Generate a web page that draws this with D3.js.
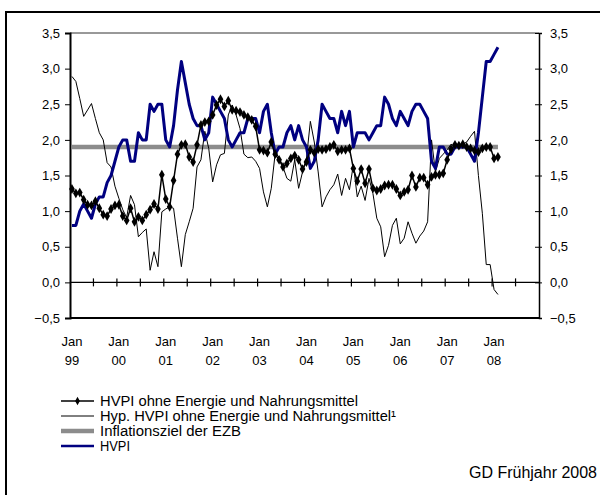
<!DOCTYPE html>
<html>
<head>
<meta charset="utf-8">
<script src="https://cdn.jsdelivr.net/npm/d3@7"></script>
<style>
  body { margin: 0; background: #fff; }
  text { font-family: "Liberation Sans", Arial, sans-serif; fill: #000; }
</style>
</head>
<body>
<div id="chart"></div>
<script>
// monthly values Jan 1999 .. Feb 2008
const hvpi = [
  0.8,0.8,1.0,1.1,1.0,0.9,1.1,1.2,1.2,1.4,1.5,1.7,
  1.9,2.0,2.0,1.7,1.7,2.1,2.0,2.0,2.5,2.4,2.5,2.5,
  2.0,1.9,2.2,2.7,3.1,2.8,2.5,2.3,2.2,2.2,2.0,2.1,
  2.6,2.5,2.4,2.3,2.0,1.9,2.0,2.1,2.1,2.3,2.3,2.3,
  2.1,2.4,2.5,2.1,1.8,1.9,1.9,2.1,2.2,2.0,2.2,2.0,
  1.9,1.6,1.7,2.0,2.5,2.4,2.3,2.3,2.1,2.4,2.2,2.4,
  1.9,2.1,2.1,2.1,2.0,2.1,2.2,2.2,2.6,2.5,2.3,2.2,
  2.4,2.3,2.2,2.4,2.5,2.5,2.4,2.3,1.7,1.6,1.9,1.9,
  1.8,1.8,1.9,1.9,1.9,1.9,1.8,1.7,2.1,2.6,3.1,3.1,
  3.2,3.3
];
const hvpiKern = [
  1.31,1.25,1.26,1.16,1.09,1.08,1.14,1.04,0.95,0.93,1.03,1.08,
  1.09,0.93,0.87,1.04,0.85,0.92,0.87,0.95,1.02,1.10,1.03,1.51,
  1.17,1.06,1.43,1.80,1.93,1.94,1.76,1.69,1.93,2.21,2.25,2.26,
  2.35,2.49,2.57,2.47,2.55,2.42,2.41,2.39,2.35,2.32,2.28,2.19,
  1.86,1.85,1.82,1.97,1.80,1.72,1.62,1.67,1.74,1.78,1.72,1.59,
  1.69,1.86,1.82,1.87,1.86,1.87,1.90,1.93,1.84,1.86,1.86,1.88,
  1.60,1.42,1.59,1.39,1.59,1.32,1.29,1.31,1.36,1.37,1.37,1.31,
  1.22,1.27,1.30,1.50,1.34,1.47,1.47,1.37,1.48,1.51,1.51,1.53,
  1.72,1.87,1.93,1.92,1.94,1.90,1.88,1.85,1.83,1.88,1.90,1.90,
  1.74,1.76
];
const hypKern = [
  2.89,2.82,2.58,2.33,2.42,2.51,2.30,2.10,2.00,1.68,1.62,1.35,
  1.18,1.02,0.91,1.22,1.09,0.64,0.70,0.75,0.17,0.43,0.22,0.99,
  1.03,1.06,1.04,0.62,0.22,0.67,0.85,1.04,1.62,1.72,2.12,1.88,
  1.41,1.65,1.79,1.81,2.35,2.49,2.35,2.16,1.80,1.75,1.76,1.70,
  1.60,1.27,1.06,1.32,1.81,1.76,1.62,1.46,1.42,1.72,1.32,1.55,
  1.74,2.26,1.97,1.55,1.06,1.20,1.30,1.37,1.52,1.22,1.46,1.30,
  1.65,1.20,1.35,1.15,1.46,1.25,0.90,0.78,0.36,0.52,0.80,0.90,
  0.54,0.62,0.85,0.69,0.55,0.65,0.72,0.85,2.00,1.55,1.74,1.80,
  1.86,1.94,1.90,1.92,1.94,1.97,2.05,2.12,1.50,0.97,0.25,0.25,
  -0.10,-0.17
];
const inflationsziel = 1.9;
const years = ["99","00","01","02","03","04","05","06","07","08"];
const yTicks = [-0.5, 0, 0.5, 1, 1.5, 2, 2.5, 3, 3.5];
const legendLabels = [
  "HVPI ohne Energie und Nahrungsmittel",
  "Hyp. HVPI ohne Energie und Nahrungsmittel\u00b9",
  "Inflationsziel der EZB",
  "HVPI"
];
const quelle = "GD Frühjahr 2008";

const width = 600, height = 495;
const navy = "#000080", grey = "#8c8c8c";

const svg = d3.select("#chart").append("svg")
  .attr("width", width)
  .attr("height", height);

// outer frame (runs off the picture to the right and bottom)
svg.append("rect")
  .attr("x", 6).attr("y", 12)
  .attr("width", 700).attr("height", 600)
  .attr("fill", "none")
  .attr("stroke", "#000")
  .attr("stroke-width", 2);

// one band per month, Jan 99 .. Dec 08
const x = d3.scaleBand()
  .domain(d3.range(years.length * 12))
  .range([70, 539])
  .padding(0);
const cx = i => x(i) + x.bandwidth() / 2;

const y = d3.scaleLinear().domain([-0.5, 3.5]).range([318, 33]);
const fmt = v => d3.format(".1f")(v).replace(".", ",");

// plot area frame
svg.append("line").attr("x1", 70).attr("x2", 539).attr("y1", y(3.5)).attr("y2", y(3.5))
  .attr("stroke", "#333").attr("stroke-width", 1);
svg.append("line").attr("x1", 70).attr("x2", 539).attr("y1", y(-0.5)).attr("y2", y(-0.5))
  .attr("stroke", "#000").attr("stroke-width", 2);

// left axis
const yLeft = svg.append("g")
  .attr("transform", "translate(70,0)")
  .call(d3.axisLeft(y).tickValues(yTicks).tickSize(5).tickPadding(5).tickFormat(fmt));
yLeft.select(".domain").attr("stroke-width", 2);
yLeft.selectAll("text").style("font-size", "13px");

// right axis
const yRight = svg.append("g")
  .attr("transform", "translate(539,0)")
  .call(d3.axisRight(y).tickValues(yTicks).tickSize(3).tickPadding(8).tickFormat(fmt));
yRight.select(".domain").attr("stroke-width", 1.5);
yRight.selectAll(".tick line").attr("x1", -4);
yRight.selectAll("text").style("font-size", "13px");

// zero line with half-year ticks
svg.append("line").attr("x1", 70).attr("x2", 539).attr("y1", y(0)).attr("y2", y(0))
  .attr("stroke", "#000").attr("stroke-width", 1.2);
svg.append("g").selectAll("line")
  .data(d3.range(6, years.length * 12, 6))
  .join("line")
  .attr("x1", d => x(d)).attr("x2", d => x(d))
  .attr("y1", y(0) - 4).attr("y2", y(0) + 4)
  .attr("stroke", "#000").attr("stroke-width", 1.2);

// x labels: "Jan" over the year
const xl = svg.append("g").selectAll("g")
  .data(years)
  .join("g")
  .attr("transform", (d, i) => `translate(${cx(i * 12)},0)`);
xl.append("text").attr("y", 346).attr("text-anchor", "middle")
  .style("font-size", "13px").text("Jan");
xl.append("text").attr("y", 365).attr("text-anchor", "middle")
  .style("font-size", "13px").text(d => d);

const line = d3.line().x((d, i) => cx(i)).y(d => y(d));

// Inflationsziel
svg.append("line")
  .attr("x1", cx(0)).attr("x2", cx(hvpi.length - 1))
  .attr("y1", y(inflationsziel)).attr("y2", y(inflationsziel))
  .attr("stroke", grey).attr("stroke-width", 4.5);

// hypothetical core rate
svg.append("path").datum(hypKern)
  .attr("d", line).attr("fill", "none")
  .attr("stroke", "#000").attr("stroke-width", 1);

// HVPI
svg.append("path").datum(hvpi)
  .attr("d", line).attr("fill", "none")
  .attr("stroke", navy).attr("stroke-width", 3)
  .attr("stroke-linejoin", "round");

// core rate with diamonds
svg.append("path").datum(hvpiKern)
  .attr("d", line).attr("fill", "none")
  .attr("stroke", "#000").attr("stroke-width", 1.5);
const diamond = d3.symbol().type(d3.symbolDiamond).size(28);
svg.append("g").selectAll("path")
  .data(hvpiKern)
  .join("path")
  .attr("transform", (d, i) => `translate(${cx(i)},${y(d)})`)
  .attr("d", diamond)
  .attr("fill", "#000");

// legend
const legend = svg.append("g").attr("transform", "translate(61,401)");
const rowH = 15;
const rows = legend.selectAll("g")
  .data(legendLabels)
  .join("g")
  .attr("transform", (d, i) => `translate(0,${i * rowH})`);
rows.append("line")
  .attr("x1", 0).attr("x2", 33).attr("y1", 0).attr("y2", 0)
  .attr("stroke", (d, i) => [ "#000", "#000", grey, navy ][i])
  .attr("stroke-width", (d, i) => [1.5, 1, 4.5, 2.5][i]);
legend.append("path")
  .attr("transform", "translate(16.5,0)")
  .attr("d", d3.symbol().type(d3.symbolDiamond).size(20))
  .attr("fill", "#000");
const legendWidths = [258, 296, 141, 30];
rows.append("text")
  .attr("x", 39).attr("y", 5)
  .style("font-size", "14px")
  .attr("textLength", (d, i) => legendWidths[i])
  .attr("lengthAdjust", "spacingAndGlyphs")
  .text(d => d);

// source note
svg.append("text")
  .attr("x", 597).attr("y", 478)
  .attr("text-anchor", "end")
  .style("font-size", "16px")
  .text(quelle);
</script>
</body>
</html>
